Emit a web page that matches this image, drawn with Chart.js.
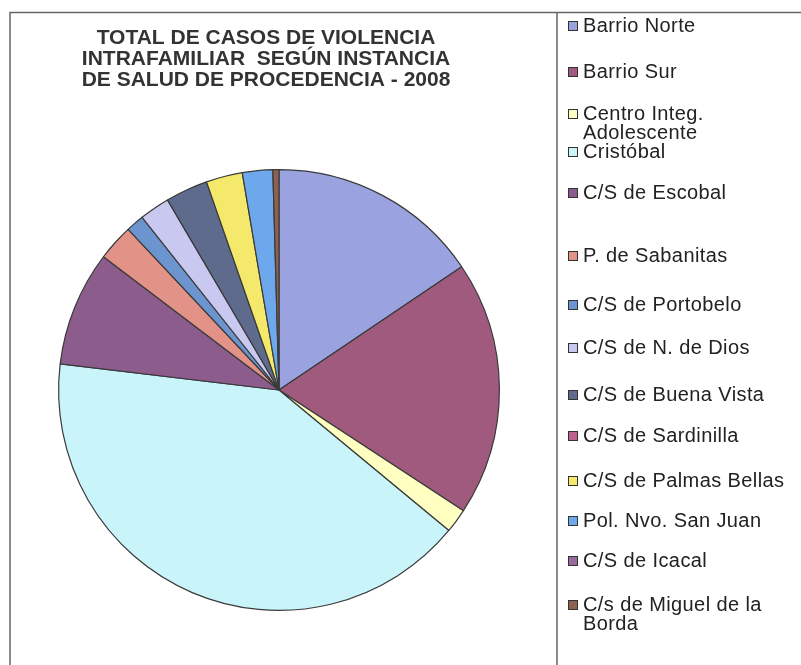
<!DOCTYPE html>
<html>
<head>
<meta charset="utf-8">
<script src="https://cdn.jsdelivr.net/npm/chart.js@4.4.0/dist/chart.umd.min.js"></script>
<style>
    html, body { margin: 0; padding: 0; background: #fff; }
    #wrap { width: 801px; height: 665px; position: relative; }
</style>
</head>
<body>
<div id="wrap"><canvas id="pie-chart"></canvas></div>
<script>
const titleLines = [
    "TOTAL DE CASOS DE VIOLENCIA",
    "INTRAFAMILIAR  SEGÚN INSTANCIA",
    "DE SALUD DE PROCEDENCIA - 2008",
];

const instancias = [
    ["Barrio Norte"],
    ["Barrio Sur"],
    ["Centro Integ.", "Adolescente"],
    ["Cristóbal"],
    ["C/S de Escobal"],
    ["P. de Sabanitas"],
    ["C/S de Portobelo"],
    ["C/S de N. de Dios"],
    ["C/S de Buena Vista"],
    ["C/S de Sardinilla"],
    ["C/S de Palmas Bellas"],
    ["Pol. Nvo. San Juan"],
    ["C/S de Icacal"],
    ["C/s de Miguel de la", "Borda"],
];

const casos = [35, 42, 4, 92, 19, 6, 3, 5, 7, 0, 6, 5, 0, 1];

const colores = [
    "#9AA2E0", "#A05A7E", "#FFFFC2", "#C8F4FA", "#8B5C8C", "#E39288", "#6C95D0",
    "#C8C8F0", "#5E6B8C", "#C0628F", "#F4E96A", "#6EA8EC", "#9A6A9A", "#8C6152",
];

// legend row centres (first line of each entry)
const legendY = [26, 72, 114, 152, 193, 256, 305, 348, 395, 436, 481, 521, 561, 605];

const framePlugin = {
    id: "frame",
    beforeDraw(chart) {
        const c = chart.ctx;
        c.save();
        c.fillStyle = "#fff";
        c.fillRect(0, 0, chart.width, chart.height);
        c.strokeStyle = "#666";
        c.lineWidth = 1.5;
        c.beginPath();
        c.moveTo(10, 665); c.lineTo(10, 12.5); c.lineTo(801, 12.5);
        c.moveTo(557, 12.5); c.lineTo(557, 665);
        c.stroke();
        c.restore();
    },
    afterDraw(chart) {
        const c = chart.ctx;
        c.save();
        c.fillStyle = "#333";
        c.textAlign = "center";
        c.textBaseline = "alphabetic";
        c.font = "bold 21px 'Liberation Sans', Arial, sans-serif";
        titleLines.forEach((t, i) => c.fillText(t, 266, 44 + i * 21));

        c.textAlign = "left";
        c.textBaseline = "middle";
        c.font = "20px 'Liberation Sans', Arial, sans-serif";
        c.letterSpacing = "0.4px";
        const meta = chart.getDatasetMeta(0);
        instancias.forEach((lines, i) => {
            const y = legendY[i];
            const st = meta.controller.getStyle(i);
            c.fillStyle = st.backgroundColor;
            c.fillRect(568, y - 5, 9, 9);
            c.strokeStyle = "#333";
            c.lineWidth = 1;
            c.strokeRect(568.5, y - 4.5, 9, 9);
            c.fillStyle = "#222";
            lines.forEach((l, j) => c.fillText(l, 583, y + j * 19));
        });
        c.restore();
    },
};

new Chart(document.getElementById("pie-chart"), {
    type: "pie",
    data: {
        labels: instancias.map((l) => l.join(" ")),
        datasets: [
            {
                data: casos,
                backgroundColor: colores,
                borderColor: "#3a3a3a",
                borderWidth: 1.2,
            },
        ],
    },
    options: {
        responsive: true,
        maintainAspectRatio: false,
        animation: false,
        layout: {
            padding: { left: 58, right: 301, top: 169, bottom: 54 },
        },
        plugins: {
            legend: { display: false },
            title: { display: false },
            tooltip: { enabled: false },
        },
    },
    plugins: [framePlugin],
});
</script>
</body>
</html>
